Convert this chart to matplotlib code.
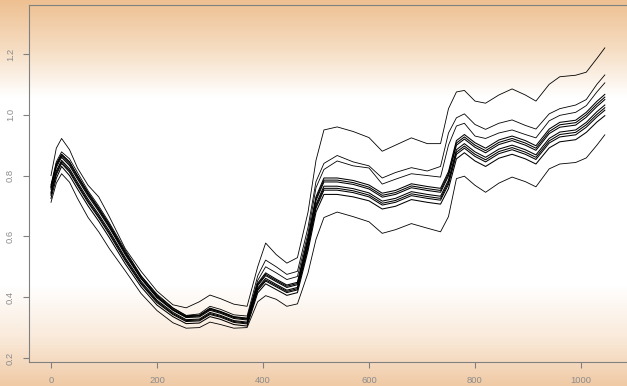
import numpy as np
import matplotlib
matplotlib.use('Agg')
import matplotlib.pyplot as plt

wavelength = [0, 10, 20, 35, 50, 70, 90, 110, 140, 170,
              200, 230, 255, 280, 300, 320, 345, 370, 390, 405,
              425, 445, 465, 485, 500, 515, 540, 570, 600, 625,
              650, 680, 710, 735, 750, 765, 780, 800, 820, 845,
              870, 895, 915, 940, 960, 990, 1010, 1030, 1045]

top_curve = [.800, .890, .922, .885, .825, .768, .730, .665, .560, .485,
             .420, .375, .365, .385, .407, .395, .377, .370, .500, .578,
             .540, .512, .530, .680, .850, .950, .960, .945, .925, .880,
             .900, .924, .905, .905, 1.020, 1.075, 1.080, 1.045, 1.038, 1.065,
             1.085, 1.065, 1.045, 1.100, 1.125, 1.130, 1.140, 1.185, 1.220]

second_curve = [.770, .845, .878, .855, .810, .750, .700, .645, .555, .470,
                .410, .365, .340, .345, .370, .360, .342, .338, .470, .522,
                .500, .475, .485, .630, .780, .840, .866, .845, .832, .792,
                .810, .826, .815, .830, .940, .990, 1.003, .968, .952, .972,
                .983, .965, .953, 1.003, 1.020, 1.032, 1.050, 1.100, 1.131]

third_curve = [.762, .836, .870, .846, .800, .742, .690, .635, .545, .462,
               .402, .358, .335, .340, .362, .352, .335, .330, .455, .500,
               .480, .458, .468, .610, .760, .820, .848, .832, .825, .772,
               .788, .806, .800, .795, .900, .963, .972, .930, .922, .940,
               .950, .935, .924, .980, .998, 1.008, 1.030, 1.075, 1.105]

# the dense group in the middle
bundle_1 = [.765, .839, .870, .844, .800, .744, .694, .640, .550, .470,
            .406, .364, .339, .341, .364, .353, .336, .331, .446, .480,
            .459, .440, .449, .597, .730, .792, .792, .784, .769, .742,
            .751, .773, .764, .758, .813, .915, .935, .908, .890, .917,
            .930, .915, .898, .953, .975, .982, 1.008, 1.044, 1.067]

bundle_2 = [.760, .833, .865, .838, .794, .738, .688, .634, .545, .465,
            .402, .360, .336, .338, .360, .350, .333, .328, .442, .475,
            .455, .436, .445, .591, .724, .785, .785, .777, .762, .735,
            .744, .766, .757, .751, .806, .907, .927, .900, .882, .909,
            .922, .907, .890, .945, .967, .974, 1.000, 1.035, 1.058]

bundle_3 = [.755, .827, .860, .833, .789, .733, .683, .629, .540, .461,
            .398, .357, .333, .335, .357, .347, .330, .325, .438, .471,
            .451, .432, .441, .586, .718, .779, .779, .771, .756, .729,
            .738, .760, .751, .745, .799, .900, .920, .893, .875, .902,
            .915, .900, .883, .938, .959, .966, .992, 1.027, 1.050]

bundle_4 = [.745, .815, .850, .822, .778, .722, .672, .618, .530, .452,
            .390, .350, .326, .328, .350, .340, .323, .318, .430, .462,
            .442, .423, .432, .575, .705, .765, .765, .757, .743, .716,
            .725, .747, .738, .732, .785, .885, .905, .878, .860, .887,
            .900, .885, .868, .922, .943, .950, .975, 1.010, 1.032]

bundle_5 = [.740, .809, .845, .816, .772, .716, .666, .612, .525, .447,
            .386, .346, .323, .325, .346, .337, .320, .315, .426, .457,
            .438, .419, .428, .569, .699, .758, .758, .750, .736, .709,
            .718, .740, .731, .725, .778, .877, .897, .870, .852, .879,
            .892, .877, .860, .914, .935, .942, .967, 1.001, 1.023]

bundle_6 = [.735, .803, .840, .811, .767, .711, .661, .607, .520, .443,
            .382, .343, .320, .322, .343, .334, .317, .312, .422, .453,
            .434, .415, .424, .564, .693, .752, .752, .744, .730, .703,
            .712, .734, .725, .719, .771, .870, .890, .863, .845, .872,
            .885, .870, .853, .907, .927, .934, .959, .993, 1.015]

bundle_7 = [.725, .791, .830, .800, .756, .700, .650, .596, .510, .434,
            .374, .336, .313, .315, .336, .327, .310, .305, .414, .444,
            .425, .406, .415, .553, .680, .738, .738, .730, .717, .690,
            .699, .721, .712, .706, .757, .855, .875, .848, .830, .857,
            .870, .855, .838, .891, .911, .918, .942, .976, .997]

bottom_curve = [.712, .775, .806, .778, .725, .662, .615, .560, .487, .412,
                .356, .316, .298, .300, .318, .310, .298, .300, .385, .405,
                .393, .370, .378, .480, .590, .662, .680, .665, .648, .610,
                .622, .642, .627, .615, .665, .790, .798, .768, .745, .775,
                .795, .780, .763, .822, .838, .843, .858, .900, .934]

x_ticks = [0, 200, 400, 600, 800, 1000]
y_ticks = [0.2, 0.4, 0.6, 0.8, 1.0, 1.2]


def gradient_image(n=386):
    stops = [0.0, 0.13, 0.25, 0.74, 0.87, 1.0]
    cols = np.array([[238, 192, 145],
                     [246, 222, 196],
                     [255, 255, 255],
                     [255, 255, 255],
                     [250, 235, 220],
                     [240, 202, 165]]) / 255.0
    t = np.linspace(0, 1, n)
    img = np.stack([np.interp(t, stops, cols[:, k]) for k in range(3)], axis=1)
    return img[:, None, :]


W, H = 627, 386
fig = plt.figure(figsize=(W / 100, H / 100), dpi=100)

bg = fig.add_axes([0, 0, 1, 1], zorder=0)
bg.imshow(gradient_image(H), aspect='auto', extent=(0, 1, 0, 1))
bg.axis('off')

ax = fig.add_axes([29 / W, 24 / H, 601 / W, 357 / H], zorder=1)
ax.set_facecolor('none')

outer = [top_curve, second_curve, third_curve, bottom_curve]
bundle = [bundle_1, bundle_2, bundle_3, bundle_4, bundle_5, bundle_6, bundle_7]
for c in outer:
    ax.plot(wavelength, c, color='black', lw=0.6)
for c in bundle:
    ax.plot(wavelength, c, color='black', lw=0.75)

ax.set_xlim(-41.5, 1092.5)
ax.set_ylim(0.1868, 1.361)

grey = '#808080'
ax.set_xticks(x_ticks)
ax.set_xticklabels([str(v) for v in x_ticks])
ax.set_yticks(y_ticks)
ax.set_yticklabels(['%.1f' % v for v in y_ticks], rotation=90, va='center')

for s in ax.spines.values():
    s.set_color(grey)
    s.set_linewidth(0.8)

ax.tick_params(length=4.3, width=0.8, color=grey, labelcolor='#8c8c8c',
               labelsize=6.8, pad=5.8)
for lab in ax.get_xticklabels() + ax.get_yticklabels():
    lab.set_fontfamily('Liberation Sans')

fig.savefig('out.png', dpi=100)
